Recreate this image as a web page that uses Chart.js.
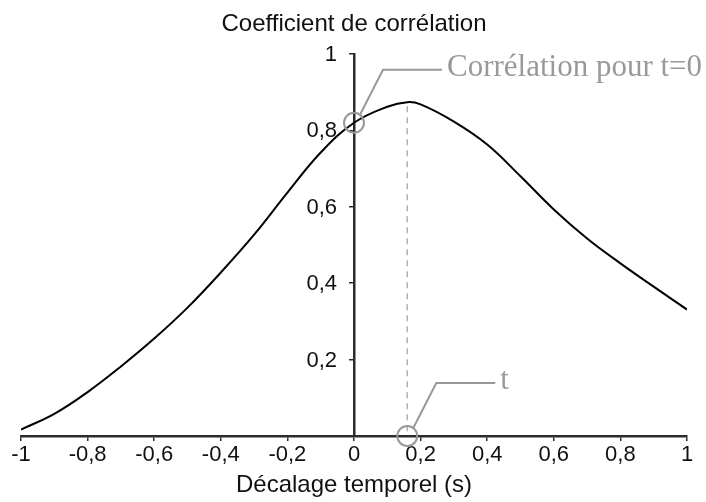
<!DOCTYPE html>
<html>
<head>
<meta charset="utf-8">
<script src="https://cdn.jsdelivr.net/npm/chart.js@4/dist/chart.umd.min.js"></script>
<style>
    html, body { margin: 0; padding: 0; background: #fff; }
    canvas { display: block; }
</style>
</head>
<body>
<canvas id="corrChart" width="706" height="502"></canvas>
<script>
// --- Data ---
const lagValues = [-1, -0.9, -0.8, -0.7, -0.6, -0.5, -0.4, -0.3, -0.2, -0.1, 0, 0.1, 0.16, 0.2, 0.3, 0.4, 0.5, 0.6, 0.7, 0.8, 0.9, 1];
const correlation = [0.017, 0.058, 0.115, 0.182, 0.255, 0.336, 0.428, 0.527, 0.637, 0.742, 0.82, 0.862, 0.874, 0.868, 0.823, 0.763, 0.68, 0.593, 0.517, 0.452, 0.391, 0.331];
const xTickLabels = ['-1', '-0,8', '-0,6', '-0,4', '-0,2', '0', '0,2', '0,4', '0,6', '0,8', '1'];
const yTickValues = [0.2, 0.4, 0.6, 0.8, 1];
const yTickLabels = ['0,2', '0,4', '0,6', '0,8', '1'];
const peakLag = 0.16;
const callouts = [
    { x: 0, y: 0.82, text: 'Corrélation pour t=0' },
    { x: peakLag, y: 0, text: 't' }
];
const yTitle = 'Coefficient de corrélation';
const xTitle = 'Décalage temporel (s)';

const SANS = '"Liberation Sans", Arial, sans-serif';
const SERIF = '"Liberation Serif", "Times New Roman", serif';
const AXIS_COLOR = '#2b2b2b';
const NOTE_COLOR = '#999999';

// --- Plugin: y labels + title, dashed peak line, callouts ---
const notesPlugin = {
    id: 'notes',
    afterDatasetsDraw(chart) {
        const { ctx, scales: { x, y } } = chart;
        const axisX = x.getPixelForValue(0);
        ctx.save();

        // y tick labels (left of the centred axis)
        ctx.fillStyle = '#111';
        ctx.font = '22px ' + SANS;
        ctx.textAlign = 'right';
        ctx.textBaseline = 'middle';
        yTickValues.forEach((v, i) => {
            ctx.fillText(yTickLabels[i], axisX - 17, y.getPixelForValue(v) + 1);
        });

        // y axis title, centred over the axis
        ctx.font = '24px ' + SANS;
        ctx.textAlign = 'center';
        ctx.fillText(yTitle, axisX, 24);

        // dashed line under the peak
        const peakIdx = lagValues.indexOf(peakLag);
        const px = x.getPixelForValue(peakLag);
        ctx.strokeStyle = '#b0b0b0';
        ctx.lineWidth = 1.5;
        ctx.setLineDash([6, 5]);
        ctx.beginPath();
        ctx.moveTo(px, y.getPixelForValue(correlation[peakIdx]) + 4);
        ctx.lineTo(px, y.getPixelForValue(0));
        ctx.stroke();
        ctx.setLineDash([]);

        // circles with leader lines and labels
        ctx.strokeStyle = NOTE_COLOR;
        ctx.fillStyle = NOTE_COLOR;
        ctx.lineWidth = 2;
        ctx.font = '31px ' + SERIF;
        ctx.textAlign = 'left';
        callouts.forEach(c => {
            const cx = x.getPixelForValue(c.x);
            const cy = y.getPixelForValue(c.y);
            ctx.beginPath();
            ctx.arc(cx, cy, 10, 0, Math.PI * 2);
            ctx.stroke();
            ctx.beginPath();
            ctx.moveTo(cx + 6, cy - 8);
            ctx.lineTo(cx + 29, cy - 53);
            ctx.lineTo(cx + 88, cy - 53);
            ctx.stroke();
            ctx.fillText(c.text, cx + 93, cy - 55);
        });

        ctx.restore();
    }
};

// --- Chart ---
const ctx = document.getElementById('corrChart').getContext('2d');
new Chart(ctx, {
    type: 'line',
    data: {
        datasets: [{
            data: lagValues.map((v, i) => ({ x: v, y: correlation[i] })),
            borderColor: '#000',
            borderWidth: 2,
            pointRadius: 0,
            tension: 0.4,
            fill: false
        }]
    },
    options: {
        responsive: false,
        animation: false,
        layout: { padding: { left: 21, right: 19, top: 54, bottom: 3 } },
        plugins: { legend: { display: false }, tooltip: { enabled: false } },
        scales: {
            x: {
                type: 'linear',
                min: -1,
                max: 1,
                grid: { drawOnChartArea: false, drawTicks: true, tickLength: 5, color: AXIS_COLOR, lineWidth: 1.5 },
                border: { color: AXIS_COLOR, width: 2.5 },
                ticks: {
                    stepSize: 0.2,
                    padding: 3,
                    color: '#111',
                    font: { family: SANS, size: 22, lineHeight: 1 },
                    callback: (v, i) => xTickLabels[i]
                },
                title: {
                    display: true,
                    text: xTitle,
                    color: '#111',
                    font: { family: SANS, size: 24, lineHeight: 1 },
                    padding: { top: 4, bottom: 2 }
                }
            },
            y: {
                type: 'linear',
                position: { x: 0 },
                min: 0,
                max: 1,
                grid: { drawOnChartArea: false, drawTicks: true, tickLength: 4, color: AXIS_COLOR, lineWidth: 1.5 },
                border: { color: AXIS_COLOR, width: 2.5 },
                ticks: { stepSize: 0.2, display: false }
            }
        }
    },
    plugins: [notesPlugin]
});
</script>
</body>
</html>
